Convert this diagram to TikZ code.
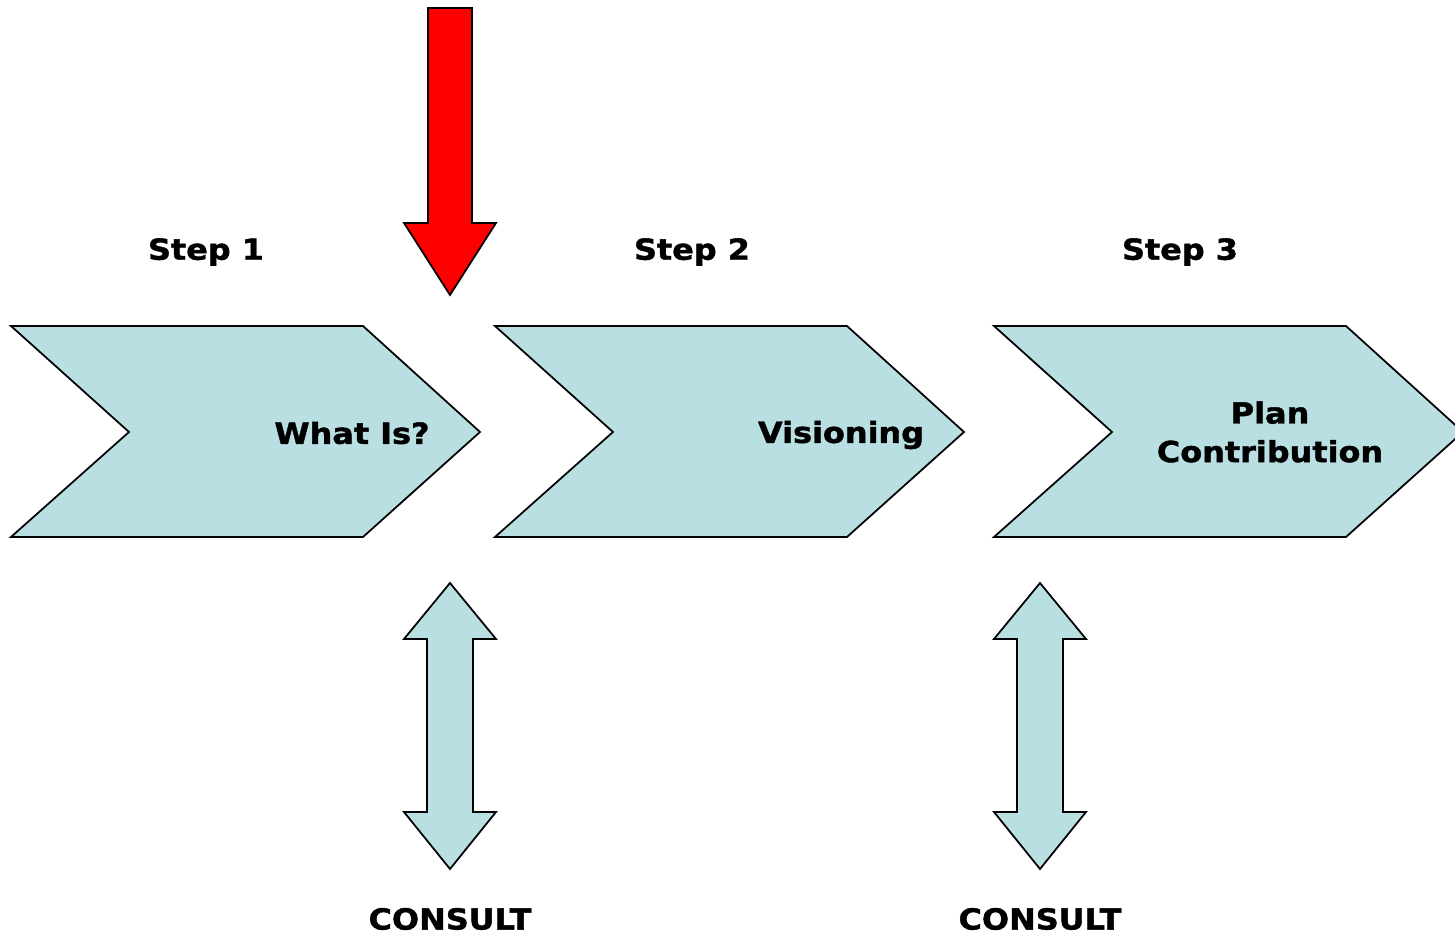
\documentclass[tikz,border=0pt]{standalone}
\usepackage{fontspec}
\setmainfont{DejaVu Sans}
\newfontfamily\heavyfont{DejaVu Sans Bold}[FakeStretch = 1.1, FakeBold = 1.5]
\usepackage{xcolor}
\usepackage{tikz}
\usetikzlibrary{calc}

\definecolor{stepblue}{HTML}{B9DFE3}
\definecolor{stepred}{HTML}{FF0000}

\tikzset{
	chevron/.style = {draw = black, line width = 1pt, fill = stepblue, line join = miter},
	bigarrow/.style = {draw = black, line width = 1pt, line join = miter},
	steplabel/.style = {font = \heavyfont\fontsize{16.5}{22}\selectfont, inner sep = 0pt},
	boxlabel/.style = {font = \heavyfont\fontsize{16.5}{22}\selectfont, align = center, inner sep = 0pt}
}

\begin{document}
\begin{tikzpicture}[x = 0.02cm, y = -0.02cm]
					\useasboundingbox (0,0) rectangle (1455,935);

					\begin{scope}
						\clip (0,0) rectangle (1455,935);
						\foreach \x in {11, 495, 994}
						{
							\draw [chevron] (\x,326) -- ++(352,0) -- ++(117,106) -- ++(-117,105)
								-- ++(-352,0) -- ++(118,-105) -- cycle;
						}
					\end{scope}

					\draw [bigarrow, fill = stepred] (428,8) -- (472,8) -- (472,223) -- (496,223)
						-- (450,295) -- (404,223) -- (428,223) -- cycle;

					\foreach \x in {450, 1040}
					{
						\draw [bigarrow, fill = stepblue] (\x,583) -- ++(46,56) -- ++(-23,0) -- ++(0,173)
							-- ++(23,0) -- ++(-46,57) -- ++(-46,-57) -- ++(23,0) -- ++(0,-173)
							-- ++(-23,0) -- cycle;
					}

					\node [steplabel] (step1) at (206,252) {Step 1};
					\node [steplabel] (step2) at (692,252) {Step 2};
					\node [steplabel] (step3) at (1180,252) {Step 3};

					\node [steplabel] (whatis) at (352,433) {What Is?};
					\node [steplabel] (vision) at (841,435) {Visioning};
					\node [boxlabel] (plan) at (1270,432) {Plan\\Contribution};

					\node [steplabel] (consult1) at (450,919) {CONSULT};
					\node [steplabel] (consult2) at (1040,919) {CONSULT};
				\end{tikzpicture}
\end{document}
